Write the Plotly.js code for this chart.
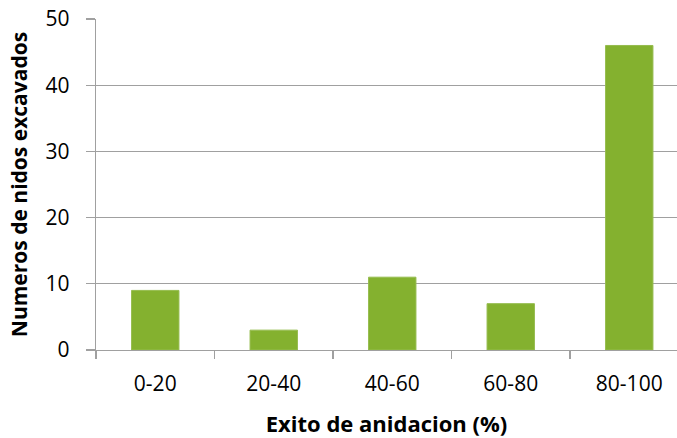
<!DOCTYPE html>
<html>
<head>
<meta charset="utf-8">
<script src="https://cdn.plot.ly/plotly-3.0.1.min.js"></script>
<style>html,body{margin:0;padding:0;background:#fff;}#chart{width:677px;height:438px;}</style>
</head>
<body>
<div id="chart"></div>
<script>
const categories = ["0-20", "20-40", "40-60", "60-80", "80-100"];
const nidos = [9, 3, 11, 7, 46];
const yTicks = [0, 10, 20, 30, 40, 50];
const xTitle = "Exito de anidacion (%)";
const yTitle = "Numeros de nidos excavados";

const font = "Open Sans, Lato, sans-serif";
const trace = {
  type: "bar",
  x: categories,
  y: nidos,
  width: 0.4,
  marker: { color: "#84B12F", line: { color: "#95BC4E", width: 1 } },
  hoverinfo: "x+y"
};
const layout = {
  width: 677,
  height: 438,
  margin: { l: 96, r: 0, t: 19, b: 88 },
  paper_bgcolor: "#fff",
  plot_bgcolor: "#fff",
  showlegend: false,
  font: { family: font, color: "#000" },
  xaxis: {
    type: "category",
    range: [-0.5, 4.403],
    tickson: "boundaries",
    ticks: "outside",
    ticklen: 8,
    tickwidth: 1.3,
    tickcolor: "#A0A0A0",
    showline: true,
    linecolor: "#A0A0A0",
    linewidth: 1.3,
    showgrid: false,
    zeroline: false,
    tickfont: { size: 21, family: font, color: "#000" },
    ticklabelstandoff: 14,
    title: { text: xTitle, font: { size: 22, family: font, color: "#000", weight: "bold" }, standoff: 22 }
  },
  yaxis: {
    range: [0, 50],
    tickvals: yTicks,
    ticks: "outside",
    ticklen: 9,
    tickwidth: 1.3,
    tickcolor: "#A0A0A0",
    showline: true,
    linecolor: "#A0A0A0",
    linewidth: 1.3,
    showgrid: true,
    gridcolor: "#A0A0A0",
    gridwidth: 1.3,
    zeroline: false,
    tickfont: { size: 21, family: font, color: "#000" },
    ticklabelstandoff: 12,
    title: { text: yTitle, font: { size: 21, family: font, color: "#000", weight: "bold" }, standoff: 12 }
  },
  bargap: 0.6
};
Plotly.newPlot("chart", [trace], layout, { displayModeBar: false, staticPlot: true });
</script>
</body>
</html>
